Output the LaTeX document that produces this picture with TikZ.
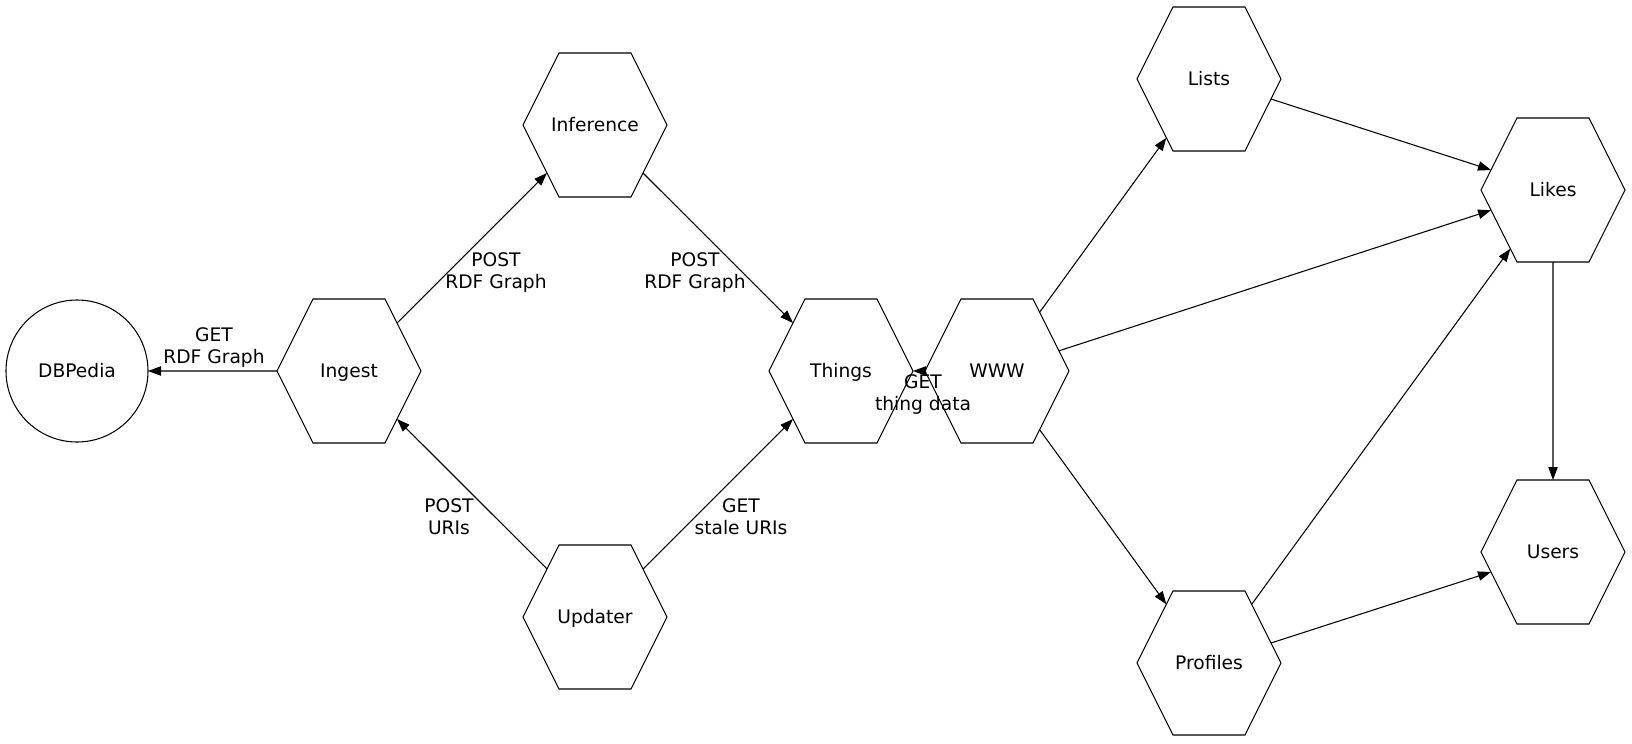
\documentclass[tikz,border=0pt]{standalone}
\usepackage{fontspec}
\setmainfont{DejaVu Sans}
\usetikzlibrary{shapes.geometric,arrows.meta}
\newcommand{\hxt}[1]{\scalebox{1}[0.866]{\rule[-3pt]{0pt}{15pt}#1}}
\begin{document}
\begin{tikzpicture}[x=0.75pt,y=-0.75pt,
  font=\fontsize{14}{16.5}\selectfont,
  hexnode/.style={draw, line width=0.8pt, regular polygon, regular polygon sides=6, minimum size=108pt, inner sep=0pt, outer sep=0pt, yscale=1.1547},
  circnode/.style={draw, line width=0.8pt, circle, minimum size=106.5pt, inner sep=0pt, outer sep=0pt},
  edge/.style={line width=0.8pt, -{Triangle[length=9.75pt,width=7pt]}},
  elabel/.style={align=center, inner sep=0pt}]
\useasboundingbox (0,0) rectangle (1632,743);
\node[circnode] (dbpedia) at (77,371) {\rule[-3pt]{0pt}{15pt}DBPedia};
\node[hexnode] (ingest) at (349,371) {\hxt{Ingest}};
\node[hexnode] (inference) at (595,125) {\hxt{Inference}};
\node[hexnode] (updater) at (595,617) {\hxt{Updater}};
\node[hexnode] (things) at (841,371) {\hxt{Things}};
\node[hexnode] (www) at (997,371) {\hxt{WWW}};
\node[hexnode] (lists) at (1209,79) {\hxt{Lists}};
\node[hexnode] (likes) at (1553,190) {\hxt{Likes}};
\node[hexnode] (profiles) at (1209,663) {\hxt{Profiles}};
\node[hexnode] (users) at (1553,552) {\hxt{Users}};

\draw[edge] (ingest) -- (dbpedia);
\draw[edge] (ingest) -- (inference);
\draw[edge] (inference) -- (things);
\draw[edge] (updater) -- (ingest);
\draw[edge] (updater) -- (things);
\draw[edge] (www) -- (things);
\draw[edge] (www) -- (lists);
\draw[edge] (www) -- (likes);
\draw[edge] (www) -- (profiles);
\draw[edge] (lists) -- (likes);
\draw[edge] (profiles) -- (likes);
\draw[edge] (profiles) -- (users);
\draw[edge] (likes) -- (users);

\node[elabel] (l1) at (214,348) {GET\\RDF Graph};
\node[elabel] (l2) at (496,273) {POST\\RDF Graph};
\node[elabel] (l3) at (695,273) {POST\\RDF Graph};
\node[elabel] (l4) at (449,517) {POST\\URIs};
\node[elabel] (l5) at (741,517) {GET\\stale URIs};
\node[elabel] (l6) at (923,395) {GET\\thing data};
\end{tikzpicture}
\end{document}
